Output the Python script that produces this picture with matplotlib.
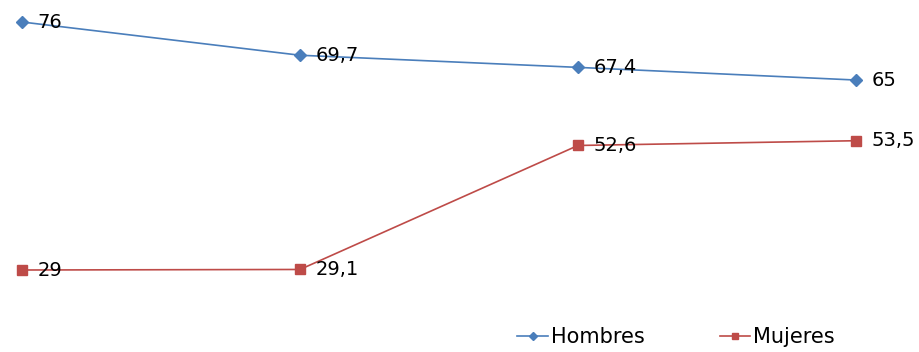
import matplotlib
matplotlib.use("Agg")
import matplotlib.pyplot as plt

categories = ["1", "2", "3", "4"]
hombres = [76, 69.7, 67.4, 65]
mujeres = [29, 29.1, 52.6, 53.5]
series_names = ["Hombres", "Mujeres"]

plt.rcParams['font.family'] = ['DejaVu Sans']

fig = plt.figure(figsize=(9.2, 3.52), dpi=100)
ax = fig.add_axes([22/920, 1-270/352, 834/920, 248/352])
x = list(range(len(categories)))
blue = "#4A7EBB"
red = "#BE4B48"
l1, = ax.plot(x, hombres, color=blue, lw=1.2, marker="D", ms=6.5, clip_on=False, label=series_names[0])
l2, = ax.plot(x, mujeres, color=red, lw=1.2, marker="s", ms=7, clip_on=False, label=series_names[1])

def fmt(v):
    s = f"{v:g}"
    return s.replace(".", ",")

for xi, v in zip(x, hombres):
    ax.annotate(fmt(v), (xi, v), xytext=(11, 0), textcoords="offset points",
                va="center", ha="left", fontsize=14, color="black")
for xi, v in zip(x, mujeres):
    ax.annotate(fmt(v), (xi, v), xytext=(11, 0), textcoords="offset points",
                va="center", ha="left", fontsize=14, color="black")

ax.set_xlim(0, 3)
ax.set_ylim(29, 76)
ax.axis("off")

fig.legend(handles=[l1, l2], loc="center", bbox_to_anchor=(676/920, 1-337/352),
           ncol=2, frameon=False, fontsize=15, handlelength=1.45, columnspacing=3.6,
           handletextpad=0.15, markerscale=0.7)

fig.savefig("out.png", dpi=100)
